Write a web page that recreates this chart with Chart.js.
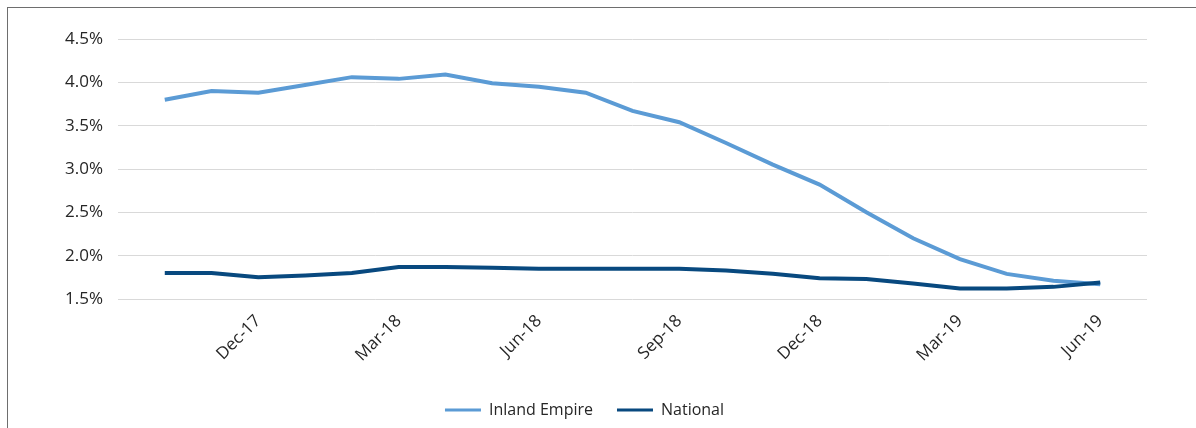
<!DOCTYPE html>
<html>
<head>
<meta charset="utf-8">
<script src="https://cdn.jsdelivr.net/npm/chart.js@4/dist/chart.umd.min.js"></script>
<style>
  html, body { margin: 0; padding: 0; background: #fff; overflow: hidden; }
  #wrap { position: relative; width: 1196px; height: 428px; }
  #frame {
    position: absolute; left: 7px; top: 7px; width: 1300px; height: 600px;
    border: 1.5px solid #6e6e6e; box-sizing: border-box;
  }
  #c { position: absolute; left: 0; top: 0; }
</style>
</head>
<body>
<div id="wrap">
  <div id="frame"></div>
  <canvas id="c" width="1196" height="428"></canvas>
</div>
<script>
// Monthly vacancy-style rates, Oct-17 through Jun-19
const months = [
  'Oct-17', 'Nov-17', 'Dec-17', 'Jan-18', 'Feb-18', 'Mar-18', 'Apr-18',
  'May-18', 'Jun-18', 'Jul-18', 'Aug-18', 'Sep-18', 'Oct-18', 'Nov-18',
  'Dec-18', 'Jan-19', 'Feb-19', 'Mar-19', 'Apr-19', 'May-19', 'Jun-19'
];
const inlandEmpire = [
  3.80, 3.90, 3.88, 3.97, 4.06, 4.04, 4.09, 3.99, 3.95, 3.88, 3.67,
  3.54, 3.30, 3.05, 2.82, 2.50, 2.20, 1.96, 1.79, 1.71, 1.67
];
const national = [
  1.80, 1.80, 1.75, 1.77, 1.80, 1.87, 1.87, 1.86, 1.85, 1.85, 1.85,
  1.85, 1.83, 1.79, 1.74, 1.73, 1.68, 1.62, 1.62, 1.64, 1.69
];
const yTicks = [1.5, 2.0, 2.5, 3.0, 3.5, 4.0, 4.5];
const labelEvery = 3;   // show every third month, ending on the last one

const toPoints = arr => arr.map((v, i) => ({ x: i, y: v }));
const FONT = '"Open Sans", "Noto Sans", sans-serif';
const TEXT = '#262626';

new Chart(document.getElementById('c'), {
  type: 'line',
  data: {
    datasets: [
      {
        label: 'National',
        data: toPoints(national),
        borderColor: '#08497f',
        backgroundColor: '#08497f',
        borderWidth: 4,
        pointRadius: 0,
        tension: 0
      },
      {
        label: 'Inland Empire',
        data: toPoints(inlandEmpire),
        borderColor: '#5b9bd5',
        backgroundColor: '#5b9bd5',
        borderWidth: 4,
        pointRadius: 0,
        tension: 0
      }
    ]
  },
  options: {
    responsive: false,
    animation: false,
    layout: { padding: { left: 22, right: 49, top: 39, bottom: 0 } },
    plugins: {
      tooltip: { enabled: false },
      legend: {
        position: 'bottom',
        reverse: true,
        labels: {
          boxWidth: 36,
          boxHeight: 3,
          padding: 24,
          color: TEXT,
          font: { family: FONT, size: 16 },
          generateLabels: chart =>
            Chart.defaults.plugins.legend.labels.generateLabels(chart)
              .map(item => Object.assign(item, { lineWidth: 0 }))
        }
      }
    },
    scales: {
      x: {
        type: 'linear',
        min: -1,
        max: months.length,
        grid: { display: false, drawTicks: false },
        border: { display: false },
        afterBuildTicks: scale => {
          scale.ticks = months
            .map((m, i) => ({ value: i }))
            .filter(t => (months.length - 1 - t.value) % labelEvery === 0);
        },
        afterFit: scale => { scale.height = 79; },
        ticks: {
          autoSkip: false,
          minRotation: 45,
          maxRotation: 45,
          padding: 12,
          color: TEXT,
          font: { family: FONT, size: 17 },
          callback: v => months[v] ?? ''
        }
      },
      y: {
        min: yTicks[0],
        max: yTicks[yTicks.length - 1],
        afterBuildTicks: scale => { scale.ticks = yTicks.map(v => ({ value: v })); },
        afterFit: scale => { scale.width = 96; },
        grid: { color: '#d9d9d9', lineWidth: 1, drawTicks: false },
        border: { display: false },
        ticks: {
          padding: 15,
          color: TEXT,
          font: { family: FONT, size: 17 },
          callback: v => v.toFixed(1) + '%'
        }
      }
    }
  }
});
</script>
</body>
</html>
